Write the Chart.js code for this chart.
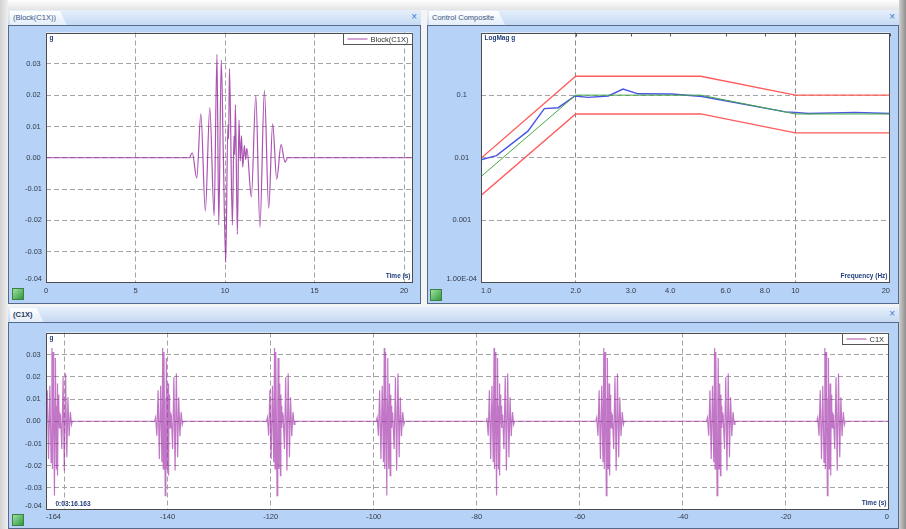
<!DOCTYPE html>
<html>
<head>
<meta charset="utf-8">
<title>Control Composite</title>
<script src="https://cdn.jsdelivr.net/npm/chart.js@4.4.1/dist/chart.umd.min.js"></script>
<style>
    html, body { margin: 0; padding: 0; }
    body { width: 906px; height: 529px; position: relative; overflow: hidden; background: #f4f4f4; font-family: "Liberation Sans", Arial, sans-serif; }
    .shadowTop { position: absolute; left: 0; top: 0; width: 906px; height: 10px; background: linear-gradient(#ffffff, #e4e4e4); }
    .edgeLeft { position: absolute; left: 0; top: 0; width: 8px; height: 529px; background: linear-gradient(to right, #d2d2d2, #f0f0f0); }
    .edgeRight { position: absolute; left: 899px; top: 0; width: 7px; height: 529px; background: linear-gradient(to right, #d0d0d0, #8e8e8e); }
    .win { position: absolute; }
    .strip { position: absolute; left: 0; right: 0; top: 0; height: 15px; background: linear-gradient(#e6effb, #c6daf4); border-bottom: 1px solid #55698a; }
    .tab { position: absolute; left: 2px; top: 1px; height: 14px; padding: 0 11px 0 3px; background: linear-gradient(#ffffff, #e4edf9); font-size: 7.5px; line-height: 14px; color: #3a5485; clip-path: polygon(0 0, calc(100% - 7px) 0, 100% 100%, 0 100%); }
    .tab.bold { font-weight: bold; color: #24395f; }
    .close { position: absolute; right: 4px; top: 2px; font-size: 10px; line-height: 10px; color: #3b7ad6; }
    .pane { position: absolute; left: 0; right: 0; top: 16px; bottom: 0; background: #b6d3f7; border: 1px solid #55698a; border-top: none; }
    .icon { position: absolute; width: 10px; height: 10px; background: linear-gradient(135deg, #9ee09e, #2f9a3f); border: 1px solid #3d7f47; }
    canvas { position: absolute; }
</style>
</head>
<body>
<div class="shadowTop"></div>
<div class="edgeLeft"></div>
<div class="edgeRight"></div>

<div class="win" style="left:8px;top:10px;width:413px;height:294px">
    <div class="strip"><div class="tab">(Block(C1X))</div><span class="close">×</span></div>
    <div class="pane"></div>
</div>
<div class="win" style="left:427px;top:10px;width:472px;height:294px">
    <div class="strip"><div class="tab">Control Composite</div><span class="close">×</span></div>
    <div class="pane"></div>
</div>
<div class="win" style="left:8px;top:307px;width:891px;height:222px">
    <div class="strip"><div class="tab bold">(C1X)</div><span class="close">×</span></div>
    <div class="pane"></div>
</div>

<div class="icon" style="left:12px;top:288px"></div>
<div class="icon" style="left:430px;top:289px"></div>
<div class="icon" style="left:12px;top:514px"></div>

<canvas id="chartBlock" width="408" height="276" style="left:10px;top:24px"></canvas>
<canvas id="chartComposite" width="466" height="276" style="left:430px;top:24px"></canvas>
<canvas id="chartHistory" width="887" height="202" style="left:10px;top:324px"></canvas>

<script>
// drive block, time in s and acceleration in g (extrema)
const blockTime = [0, 8.0, 8.17, 8.42, 8.65, 8.90, 9.15, 9.39, 9.55, 9.65, 9.79, 9.90, 10.04, 10.16, 10.20, 10.25, 10.41, 10.50,
    10.54, 10.58, 10.69, 10.78, 10.85, 10.92, 10.99, 11.08, 11.15, 11.22, 11.47, 11.72, 11.95, 12.20, 12.44, 12.66, 12.89, 13.13,
    13.35, 13.5, 20.5];
const blockAccel = [0, 0, 0.0016, -0.0065, 0.0140, -0.0170, 0.0160, -0.0185, 0.0330, -0.0215, 0.0312, 0.0025, -0.0335, 0.0105,
    0.0060, 0.0285, -0.0215, 0.0070, 0.0010, 0.0170, -0.0245, 0.0120, -0.0010, 0.0070, -0.0030, 0.0040, -0.0005, 0.0030, -0.0125,
    0.0198, -0.0222, 0.0215, -0.0162, 0.0108, -0.0068, 0.0042, -0.0014, 0, 0];
const burstFrom = 8.0;
const burstTo = 13.5;

// start of each burst in the time history, s
const burstStarts = [-164.0, -142.5, -120.8, -99.5, -78.2, -56.9, -35.4, -14.0];

// control composite, frequency in Hz and magnitude in g
const profileFreq = [1, 2, 5, 10, 20];
const referenceMag = [0.005, 0.1, 0.1, 0.05, 0.05];
const abortHighMag = [0.0098, 0.2, 0.2, 0.1, 0.1];
const abortLowMag = [0.0025, 0.05, 0.05, 0.025, 0.025];
const controlFreq = [1, 1.12, 1.41, 1.59, 1.76, 1.99, 2.19, 2.54, 2.83, 3.16, 4.05, 5.05, 9.3, 10, 11, 15.5, 20];
const controlMag = [0.0093, 0.0108, 0.0266, 0.061, 0.063, 0.097, 0.092, 0.097, 0.125, 0.105, 0.104, 0.095, 0.054, 0.053, 0.051, 0.053, 0.051];

// tick labels
const accelTicks = [-0.04, -0.03, -0.02, -0.01, 0, 0.01, 0.02, 0.03];
const blockTimeTicks = [0, 5, 10, 15, 20];
const freqTicks = [1, 2, 3, 4, 6, 8, 10, 20];
const freqTickLabels = ["1.0", "2.0", "3.0", "4.0", "6.0", "8.0", "10", "20"];
const magTicks = [1e-4, 1e-3, 1e-2, 0.1];
const magTickLabels = ["1.00E-04", "0.001", "0.01", "0.1"];
const historyTicks = [-163.6, -160, -140, -120, -100, -80, -60, -40, -20, 0];
const historyTickLabels = ["-164", "", "-140", "-120", "-100", "-80", "-60", "-40", "-20", "0"];

const tickFont = { family: "Liberation Sans", size: 7.5 };
const tickColor = "#333a48";
const gridColor = "#a3a3a3";
const gridDash = [5, 3];

/**
 * White plot background, the box round the plot, the unit and axis names and the little legend.
 */
const panelDecor = {
    id: "panelDecor",
    beforeDraw(chart) {
        const { ctx, chartArea: a } = chart;
        ctx.save();
        ctx.fillStyle = "#ffffff";
        ctx.fillRect(a.left, a.top, a.right - a.left, a.bottom - a.top);
        ctx.restore();
    },
    afterDraw(chart, args, opts) {
        const { ctx, chartArea: a } = chart;
        const left = Math.round(a.left) + 0.5;
        const top = Math.round(a.top) + 0.5;
        const right = Math.round(a.right) - 0.5;
        const bottom = Math.round(a.bottom) - 0.5;
        ctx.save();

        if (opts.topTicks) {
            ctx.strokeStyle = "#555";
            ctx.lineWidth = 1;
            chart.scales.x.ticks.forEach(t => {
                const px = Math.round(chart.scales.x.getPixelForValue(t.value)) + 0.5;
                ctx.beginPath();
                ctx.moveTo(px, top);
                ctx.lineTo(px, top + 3);
                ctx.stroke();
            });
        }

        ctx.strokeStyle = "#4c4c4c";
        ctx.lineWidth = 1;
        ctx.strokeRect(left, top, right - left, bottom - top);

        ctx.font = "bold 6.5px 'Liberation Sans'";
        ctx.fillStyle = "#1f3d7a";
        ctx.textBaseline = "middle";
        ctx.textAlign = "left";
        ctx.fillText(opts.unit, left + 3, top + 5);
        if (opts.stamp)
            ctx.fillText(opts.stamp, left + 9, bottom - 5);
        ctx.textAlign = "right";
        ctx.fillText(opts.axisName, right - 2, bottom - 6);

        if (opts.legend) {
            ctx.font = "7.5px 'Liberation Sans'";
            const tw = ctx.measureText(opts.legend).width;
            const w = Math.round(27 + tw + 4);
            const bx = right - w;
            ctx.fillStyle = "#ffffff";
            ctx.fillRect(bx, top, w, 11);
            ctx.strokeStyle = "#555";
            ctx.strokeRect(bx, top, w, 11);
            ctx.strokeStyle = "#b868bd";
            ctx.lineWidth = 1.2;
            ctx.beginPath();
            ctx.moveTo(bx + 4, top + 5.5);
            ctx.lineTo(bx + 24, top + 5.5);
            ctx.stroke();
            ctx.fillStyle = "#333";
            ctx.textAlign = "left";
            ctx.fillText(opts.legend, bx + 27, top + 6);
        }
        ctx.restore();
    }
};

/**
 * @param {number[]} values
 */
function fixedTicks(values) {
    return scale => { scale.ticks = values.map(v => ({ value: v })); };
}

/**
 * @param {number} w
 */
function fixedWidth(w) {
    return scale => { scale.width = w; };
}

/**
 * @param {number} h
 */
function fixedHeight(h) {
    return scale => { scale.height = h; };
}

function accelAxis(width) {
    return {
        type: "linear",
        min: -0.04,
        max: 0.04,
        afterBuildTicks: fixedTicks(accelTicks),
        afterFit: fixedWidth(width),
        border: { display: false, dash: gridDash },
        grid: {
            drawTicks: false,
            color: ctx => ctx.tick && ctx.tick.value === -0.04 ? "transparent" : gridColor
        },
        ticks: {
            font: tickFont,
            color: tickColor,
            padding: 4,
            crossAlign: "center",
            // bottom label sits a little above its line, as in the software
            callback: v => v === -0.04 ? ["-0.04", ""] : v.toFixed(2)
        }
    };
}

function loadBlockChart() {
    new Chart(document.getElementById("chartBlock"), {
        type: "line",
        data: {
            datasets: [{
                data: blockTime.map((t, i) => ({ x: t, y: blockAccel[i] })),
                borderColor: "rgba(150, 40, 158, 0.8)",
                borderWidth: 1.2,
                pointRadius: 0,
                cubicInterpolationMode: "monotone"
            }]
        },
        options: {
            responsive: false,
            animation: false,
            layout: { padding: { left: 0, right: 5, top: 5, bottom: 0 } },
            plugins: {
                legend: { display: false },
                tooltip: { enabled: false },
                panelDecor: { unit: "g", axisName: "Time (s)", legend: "Block(C1X)" }
            },
            scales: {
                x: {
                    type: "linear",
                    min: 0,
                    max: 20.5,
                    afterBuildTicks: fixedTicks(blockTimeTicks),
                    afterFit: fixedHeight(17),
                    border: { display: false, dash: gridDash },
                    grid: {
                        drawTicks: false,
                        color: ctx => ctx.tick && ctx.tick.value === 0 ? "transparent" : gridColor
                    },
                    ticks: { font: tickFont, color: tickColor, padding: 3, maxRotation: 0, autoSkip: false }
                },
                y: accelAxis(36)
            }
        },
        plugins: [panelDecor]
    });
}

function loadCompositeChart() {
    const line = (freq, mag, color, width) => ({
        data: freq.map((f, i) => ({ x: f, y: mag[i] })),
        borderColor: color,
        borderWidth: width,
        pointRadius: 0,
        tension: 0
    });
    new Chart(document.getElementById("chartComposite"), {
        type: "line",
        data: {
            datasets: [
                line(profileFreq, abortHighMag, "#ff5b5b", 1.3),
                line(profileFreq, abortLowMag, "#ff5b5b", 1.3),
                line(profileFreq, referenceMag, "#45a845", 1),
                line(controlFreq, controlMag, "#4a55e6", 1.4)
            ]
        },
        options: {
            responsive: false,
            animation: false,
            layout: { padding: { left: 0, right: 6, top: 5, bottom: 0 } },
            plugins: {
                legend: { display: false },
                tooltip: { enabled: false },
                panelDecor: { unit: "LogMag g", axisName: "Frequency (Hz)", topTicks: true }
            },
            scales: {
                x: {
                    type: "logarithmic",
                    min: 1,
                    max: 20,
                    afterBuildTicks: fixedTicks(freqTicks),
                    afterFit: fixedHeight(17),
                    border: { display: false, dash: gridDash },
                    grid: {
                        drawTicks: false,
                        color: ctx => ctx.tick && (ctx.tick.value === 2 || ctx.tick.value === 10) ? "#8a8a8a" : "transparent"
                    },
                    ticks: {
                        font: tickFont,
                        color: tickColor,
                        padding: 3,
                        maxRotation: 0,
                        autoSkip: false,
                        align: "inner",
                        callback: (v, i) => freqTickLabels[i]
                    }
                },
                y: {
                    type: "logarithmic",
                    min: 1e-4,
                    max: 1,
                    afterBuildTicks: fixedTicks(magTicks),
                    afterFit: fixedWidth(51),
                    border: { display: false, dash: gridDash },
                    grid: {
                        drawTicks: false,
                        color: ctx => ctx.tick && ctx.tick.value === 1e-4 ? "transparent" : gridColor
                    },
                    ticks: {
                        font: tickFont,
                        color: tickColor,
                        padding: 4,
                        crossAlign: "center",
                        callback: (v, i) => i === 0 ? [magTickLabels[i], ""] : magTickLabels[i]
                    }
                }
            }
        },
        plugins: [panelDecor]
    });
}

function loadHistoryChart() {
    // every burst in the history is the drive block played again
    const points = [];
    burstStarts.forEach(s => {
        blockTime.forEach((t, i) => {
            if (t >= burstFrom && t <= burstTo)
                points.push({ x: s + t - burstFrom, y: blockAccel[i] });
        });
    });
    points.push({ x: 0, y: 0 });

    new Chart(document.getElementById("chartHistory"), {
        type: "line",
        data: {
            datasets: [{
                data: points,
                borderColor: "rgba(160, 45, 168, 0.65)",
                borderWidth: 1.2,
                pointRadius: 0,
                tension: 0
            }]
        },
        options: {
            responsive: false,
            animation: false,
            layout: { padding: { left: 0, right: 8, top: 7, bottom: 0 } },
            plugins: {
                legend: { display: false },
                tooltip: { enabled: false },
                panelDecor: { unit: "g", axisName: "Time (s)", legend: "C1X", stamp: "0:03:16.163" }
            },
            scales: {
                x: {
                    type: "linear",
                    min: -163.6,
                    max: 0,
                    afterBuildTicks: fixedTicks(historyTicks),
                    afterFit: fixedHeight(16),
                    border: { display: false, dash: gridDash },
                    grid: {
                        drawTicks: false,
                        color: ctx => ctx.tick && (ctx.tick.value === 0 || ctx.tick.value === -163.6) ? "transparent" : gridColor
                    },
                    ticks: {
                        font: tickFont,
                        color: tickColor,
                        padding: 2,
                        maxRotation: 0,
                        autoSkip: false,
                        align: "inner",
                        callback: (v, i) => historyTickLabels[i]
                    }
                },
                y: accelAxis(36)
            }
        },
        plugins: [panelDecor]
    });
}

(function () {
    [loadBlockChart, loadCompositeChart, loadHistoryChart].forEach(loader => loader());
})();
</script>
</body>
</html>
